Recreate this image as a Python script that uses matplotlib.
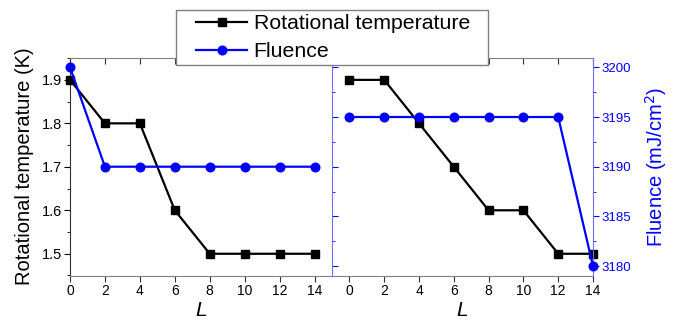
import matplotlib
matplotlib.use("Agg")
import matplotlib.pyplot as plt
from matplotlib.patches import Rectangle
from matplotlib.lines import Line2D
from matplotlib.ticker import MultipleLocator

plt.rcParams['font.family'] = ['Liberation Sans', 'DejaVu Sans']

# data
L_vals = [0, 2, 4, 6, 8, 10, 12, 14]
temp_left = [1.9, 1.8, 1.8, 1.6, 1.5, 1.5, 1.5, 1.5]
fluence_left = [3200, 3190, 3190, 3190, 3190, 3190, 3190, 3190]
temp_right = [1.9, 1.9, 1.8, 1.7, 1.6, 1.6, 1.5, 1.5]
fluence_right = [3195, 3195, 3195, 3195, 3195, 3195, 3195, 3180]
xticks = [0, 2, 4, 6, 8, 10, 12, 14]

blue = "#0000ff"
spine_blue = "#7070ff"
gray = "#808080"

W, H = 682, 321
fig = plt.figure(figsize=(W / 100, H / 100), dpi=100)

def fx(px):
    return px / W

def fy(py):
    return 1 - py / H

bot, top = fy(275.5), fy(57.7)
ax1 = fig.add_axes([fx(70), bot, fx(332) - fx(70), top - bot])
ax2 = fig.add_axes([fx(332), bot, fx(593) - fx(332), top - bot])
ax1t = ax1.twinx()
ax2t = ax2.twinx()

tkw = dict(marker='s', color='black', ms=5.5, lw=1.6, clip_on=False, zorder=3)
fkw = dict(marker='o', color=blue, ms=6.2, lw=1.6, clip_on=False, zorder=3)

ax1.plot(L_vals, temp_left, **tkw)
ax1t.plot(L_vals, fluence_left, **fkw)
ax2.plot(L_vals, temp_right, **tkw)
ax2t.plot(L_vals, fluence_right, **fkw)

for ax in (ax1, ax2):
    ax.set_ylim(1.45, 1.951)
    ax.set_xticks(xticks)
    ax.tick_params(axis='x', which='major', direction='out', length=4, labelsize=10,
                   top=True, color='#333333', pad=2)
    ax.spines['top'].set_color(gray)
    ax.spines['bottom'].set_color(gray)
    ax.set_xlabel('L', style='italic', fontsize=15, labelpad=2)
ax1.set_xlim(0, 15)
ax2.set_xlim(-1, 14)

for ax in (ax1t, ax2t):
    ax.set_ylim(3179.05, 3200.97)
    ax.yaxis.set_major_locator(MultipleLocator(5))
    ax.yaxis.set_minor_locator(MultipleLocator(2.5))
    ax.spines['top'].set_visible(False)
    ax.spines['bottom'].set_visible(False)
    ax.spines['left'].set_visible(False)
    ax.spines['right'].set_color(spine_blue)

# top ticks pointing inward
for ax in (ax1, ax2):
    for t in ax.xaxis.get_major_ticks():
        t.tick2line.set_marker(3)  # TICKDOWN
        t.tick2line.set_markersize(4)

# left panel temperature axis
ax1.yaxis.set_major_locator(MultipleLocator(0.1))
ax1.yaxis.set_minor_locator(MultipleLocator(0.05))
ax1.tick_params(axis='y', which='major', direction='out', length=4, labelsize=10.5, pad=2)
ax1.tick_params(axis='y', which='minor', direction='out', length=2.5)
ax1.spines['left'].set_color('#333333')
ax1.spines['right'].set_visible(False)
ax1.set_ylabel('Rotational temperature (K)', fontsize=14.5, labelpad=5)

ax1t.tick_params(axis='y', which='both', direction='out', colors=blue, labelright=False)
ax1t.tick_params(axis='y', which='major', length=4)
ax1t.tick_params(axis='y', which='minor', length=2.5)

# right panel
ax2.spines['left'].set_visible(False)
ax2.spines['right'].set_visible(False)
ax2.tick_params(axis='y', which='both', left=False, labelleft=False)
ax2t.tick_params(axis='y', which='both', direction='out', colors=blue, labelsize=9.5, pad=2)
ax2t.tick_params(axis='y', which='major', length=4)
ax2t.tick_params(axis='y', which='minor', length=2.5)
ax2t.set_ylabel('Fluence (mJ/cm$^2$)', color=blue, fontsize=14.5, labelpad=9)

# legend
rect = Rectangle((fx(176), fy(65)), fx(488) - fx(176), fy(10) - fy(65),
                 transform=fig.transFigure, facecolor='white', edgecolor=gray,
                 lw=1.0, zorder=5)
fig.add_artist(rect)
handles = [Line2D([], [], marker='s', color='black', ms=5.5, lw=1.6),
           Line2D([], [], marker='o', color=blue, ms=6.2, lw=1.6)]
leg = fig.legend(handles, ['Rotational temperature', 'Fluence'], loc='upper left',
                 bbox_to_anchor=(fx(190), fy(8)), bbox_transform=fig.transFigure,
                 frameon=False, fontsize=15.3, handlelength=2.4, handletextpad=0.3,
                 labelspacing=0.42, borderpad=0.3, borderaxespad=0)
leg.set_zorder(6)

fig.savefig('out.png', dpi=100)
